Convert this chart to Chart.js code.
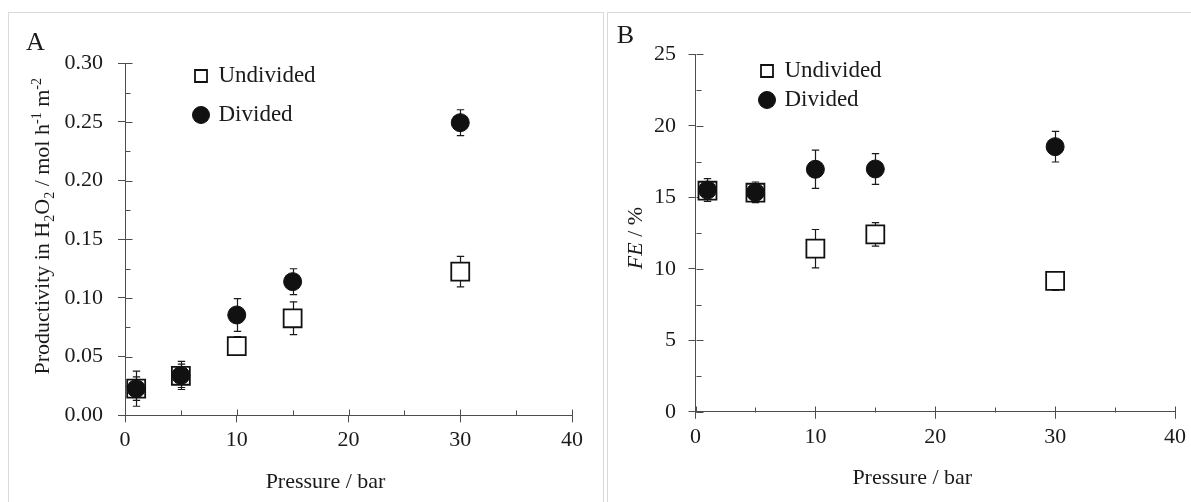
<!DOCTYPE html>
<html>
<head>
<meta charset="utf-8">
<script src="https://cdn.jsdelivr.net/npm/chart.js@4.4.1/dist/chart.umd.min.js"></script>
<style>
html, body { margin: 0; padding: 0; background: #fff; overflow: hidden; width: 1191px; height: 502px; }
.panel { position: absolute; top: 12px; height: 520px; border: 1px solid #d9d9d9; background: #fff; }
#pA { left: 8px; width: 594px; }
#pB { left: 607px; width: 600px; }
.wrap { position: absolute; left: 0; top: 0; height: 489px; }
#wA { width: 594px; }
#wB { width: 583px; }
</style>
</head>
<body>
<div class="panel" id="pA"><div class="wrap" id="wA"><canvas id="cA"></canvas></div></div>
<div class="panel" id="pB"><div class="wrap" id="wB"><canvas id="cB"></canvas></div></div>
<script>
// ---------------- data ----------------
const seriesNames = ['Undivided', 'Divided'];
const pressure = [1, 5, 10, 15, 30];

const undividedProductivity = [0.0227, 0.0337, 0.059, 0.0827, 0.1224];
const undividedProductivityErr = [0.010, 0.010, 0.008, 0.014, 0.013];
const dividedProductivity = [0.0227, 0.034, 0.0855, 0.1139, 0.2494];
const dividedProductivityErr = [0.015, 0.012, 0.014, 0.011, 0.011];

const undividedFE = [15.46, 15.32, 11.41, 12.41, 9.15];
const undividedFEErr = [0.6, 0.5, 1.34, 0.82, 0.66];
const dividedFE = [15.51, 15.35, 16.96, 16.98, 18.54];
const dividedFEErr = [0.8, 0.72, 1.34, 1.07, 1.07];

const pressureTicks = [0, 10, 20, 30, 40];
const productivityTicks = [0, 0.05, 0.10, 0.15, 0.20, 0.25, 0.30];
const feTicks = [0, 5, 10, 15, 20, 25];

const xTitleRuns = [{ t: 'Pressure / bar' }];
const yTitleRunsA = [
  { t: 'Productivity in H' }, { t: '2', sub: true }, { t: 'O' }, { t: '2', sub: true },
  { t: ' / mol h' }, { t: '-1', sup: true }, { t: ' m' }, { t: '-2', sup: true }
];
const yTitleRunsB = [{ t: 'FE', italic: true }, { t: ' / %' }];

// ---------------- style ----------------
const FAMILY = "'Liberation Serif', 'Times New Roman', serif";
const AXIS = '#4d4d4d';
const TEXT = '#1a1a1a';

function toPoints(xs, ys) { return xs.map((x, i) => ({ x: x, y: ys[i] })); }

// error bars drawn through the scales
const errorBars = {
  id: 'errorBars',
  beforeDatasetsDraw(chart) {
    const ctx = chart.ctx, xs = chart.scales.x, ys = chart.scales.y;
    ctx.save();
    ctx.strokeStyle = '#1a1a1a';
    ctx.lineWidth = 1.2;
    chart.data.datasets.forEach((ds) => {
      const err = ds.errors || [];
      ds.data.forEach((p, j) => {
        const e = err[j];
        if (e == null) return;
        const px = Math.round(xs.getPixelForValue(p.x)) + 0.5;
        const yt = ys.getPixelForValue(p.y + e);
        const yb = ys.getPixelForValue(p.y - e);
        ctx.beginPath();
        ctx.moveTo(px, yt); ctx.lineTo(px, yb);
        ctx.moveTo(px - 3.7, yt); ctx.lineTo(px + 3.7, yt);
        ctx.moveTo(px - 3.7, yb); ctx.lineTo(px + 3.7, yb);
        ctx.stroke();
      });
    });
    ctx.restore();
  }
};

// inner tick marks (major cross the axis, minor point inward)
const innerTicks = {
  id: 'innerTicks',
  beforeDatasetsDraw(chart) {
    const ctx = chart.ctx, ca = chart.chartArea, xs = chart.scales.x, ys = chart.scales.y;
    ctx.save();
    ctx.strokeStyle = AXIS;
    ctx.lineWidth = 1;
    const by = Math.round(ca.bottom) + 0.5;
    const lx = Math.round(ca.left) + 0.5;
    const xv = xs.ticks.map(t => t.value);
    const yv = ys.ticks.map(t => t.value);
    ctx.beginPath();
    xv.forEach((v, i) => {
      const px = Math.round(xs.getPixelForValue(v)) + 0.5;
      ctx.moveTo(px, by); ctx.lineTo(px, by - 6);
      if (i < xv.length - 1) {
        const mx = Math.round(xs.getPixelForValue((v + xv[i + 1]) / 2)) + 0.5;
        ctx.moveTo(mx, by); ctx.lineTo(mx, by - 5);
      }
    });
    yv.forEach((v, i) => {
      const py = Math.round(ys.getPixelForValue(v)) + 0.5;
      ctx.moveTo(lx, py); ctx.lineTo(lx + 7, py);
      if (i < yv.length - 1) {
        const my = Math.round(ys.getPixelForValue((v + yv[i + 1]) / 2)) + 0.5;
        ctx.moveTo(lx, my); ctx.lineTo(lx + 5, my);
      }
    });
    ctx.stroke();
    ctx.restore();
  }
};

// place the legend inside the plot
const legendPlace = {
  id: 'legendPlace',
  afterLayout(chart, args, opts) {
    const lg = chart.legend;
    if (!lg || opts.x == null) return;
    const pad = lg.options.labels.padding;
    const w = lg.width, h = lg.height;
    lg.left = opts.x - pad; lg.right = lg.left + w;
    lg.top = opts.y - pad; lg.bottom = lg.top + h;
  }
};

function drawRuns(ctx, runs, size) {
  const parts = runs.map(r => {
    const fs = (r.sub || r.sup) ? Math.round(size * 0.65) : size;
    const font = (r.italic ? 'italic ' : '') + fs + 'px ' + FAMILY;
    ctx.font = font;
    return { t: r.t, font: font, w: ctx.measureText(r.t).width, dy: r.sub ? size * 0.22 : (r.sup ? -size * 0.36 : 0) };
  });
  const total = parts.reduce((a, p) => a + p.w, 0);
  let x = -total / 2;
  ctx.textAlign = 'left';
  ctx.textBaseline = 'alphabetic';
  parts.forEach(p => { ctx.font = p.font; ctx.fillText(p.t, x, p.dy); x += p.w; });
}

// axis titles and panel letter
const panelText = {
  id: 'panelText',
  afterDraw(chart, args, o) {
    const ctx = chart.ctx, ca = chart.chartArea;
    const size = 22;
    ctx.save();
    ctx.fillStyle = TEXT;
    ctx.font = '26px ' + FAMILY;
    ctx.textAlign = 'left'; ctx.textBaseline = 'alphabetic';
    ctx.fillText(o.letter, o.letterX, o.letterY);
    ctx.save();
    ctx.translate((ca.left + ca.right) / 2 + o.xTitleDX, ca.bottom + o.xTitleDY + size * 0.33);
    drawRuns(ctx, o.xTitle, size);
    ctx.restore();
    ctx.save();
    ctx.translate(o.yTitleX, (ca.top + ca.bottom) / 2 + o.yTitleDY);
    ctx.rotate(-Math.PI / 2);
    ctx.translate(0, size * 0.33);
    drawRuns(ctx, o.yTitle, size);
    ctx.restore();
    ctx.restore();
  }
};

function makeChart(id, cfg) {
  const datasets = [
    {
      label: seriesNames[0], data: toPoints(pressure, cfg.undivided), errors: cfg.undividedErr,
      pointStyle: 'rect', pointRadius: 12.7, pointHoverRadius: 12.7,
      backgroundColor: '#ffffff', borderColor: '#111111', borderWidth: 1.8,
      showLine: false, order: 2, clip: false
    },
    {
      label: seriesNames[1], data: toPoints(pressure, cfg.divided), errors: cfg.dividedErr,
      pointStyle: 'circle', pointRadius: 9, pointHoverRadius: 9,
      backgroundColor: '#111111', borderColor: '#111111', borderWidth: 1,
      showLine: false, order: 1, clip: false
    }
  ];
  return new Chart(document.getElementById(id), {
    type: 'scatter',
    data: { datasets: datasets },
    plugins: [errorBars, innerTicks, legendPlace, panelText],
    options: {
      responsive: true,
      maintainAspectRatio: false,
      animation: false,
      events: [],
      layout: { padding: cfg.padding },
      scales: {
        x: {
          type: 'linear', min: 0, max: 40,
          afterBuildTicks: s => { s.ticks = pressureTicks.map(v => ({ value: v })); },
          afterFit: s => { s.height = 60; },
          grid: { drawOnChartArea: false, color: AXIS, tickColor: AXIS, tickLength: 7, lineWidth: 1 },
          border: { color: AXIS, width: 1 },
          ticks: { font: { family: FAMILY, size: 22 }, color: TEXT, padding: 5, maxRotation: 0, autoSkip: false }
        },
        y: {
          type: 'linear', min: cfg.yTicks[0], max: cfg.yTicks[cfg.yTicks.length - 1],
          afterBuildTicks: s => { s.ticks = cfg.yTicks.map(v => ({ value: v })); },
          afterFit: s => { s.width = cfg.yWidth; },
          grid: { drawOnChartArea: false, color: AXIS, tickColor: AXIS, tickLength: 7, lineWidth: 1 },
          border: { color: AXIS, width: 1 },
          ticks: { font: { family: FAMILY, size: 22 }, color: TEXT, padding: cfg.yTickPad, autoSkip: false, callback: cfg.yFmt }
        }
      },
      plugins: {
        tooltip: { enabled: false },
        legend: {
          position: 'chartArea', align: 'start',
          labels: {
            usePointStyle: true, boxWidth: 12, boxHeight: 12, padding: cfg.legendPad,
            font: { family: FAMILY, size: 23 }, color: TEXT,
            sort: (a, b) => a.datasetIndex - b.datasetIndex
          }
        },
        legendPlace: cfg.legendPos,
        panelText: {
          letter: cfg.letter, letterX: cfg.letterX, letterY: cfg.letterY,
          xTitle: xTitleRuns, xTitleDX: -23, xTitleDY: 65,
          yTitle: cfg.yTitle, yTitleX: cfg.yTitleX, yTitleDY: cfg.yTitleDY
        }
      }
    }
  });
}

makeChart('cA', {
  undivided: undividedProductivity, undividedErr: undividedProductivityErr,
  divided: dividedProductivity, dividedErr: dividedProductivityErr,
  yTicks: productivityTicks, yFmt: v => Number(v).toFixed(2),
  yWidth: 116, yTickPad: 15,
  padding: { left: 0, right: 31, top: 50.3, bottom: 26.7 },
  legendPad: 16, legendPos: { x: 186, y: 51.5 },
  letter: 'A', letterX: 17, letterY: 37,
  yTitle: yTitleRunsA, yTitleX: 32.7, yTitleDY: -13
});

makeChart('cB', {
  undivided: undividedFE, undividedErr: undividedFEErr,
  divided: dividedFE, dividedErr: dividedFEErr,
  yTicks: feTicks, yFmt: v => String(v),
  yWidth: 87.5, yTickPad: 12.5,
  padding: { left: 0, right: 16, top: 41.3, bottom: 30.2 },
  legendPad: 6, legendPos: { x: 153, y: 46.5 },
  letter: 'B', letterX: 8.7, letterY: 29.7,
  yTitle: yTitleRunsB, yTitleX: 27, yTitleDY: 5
});
</script>
</body>
</html>
